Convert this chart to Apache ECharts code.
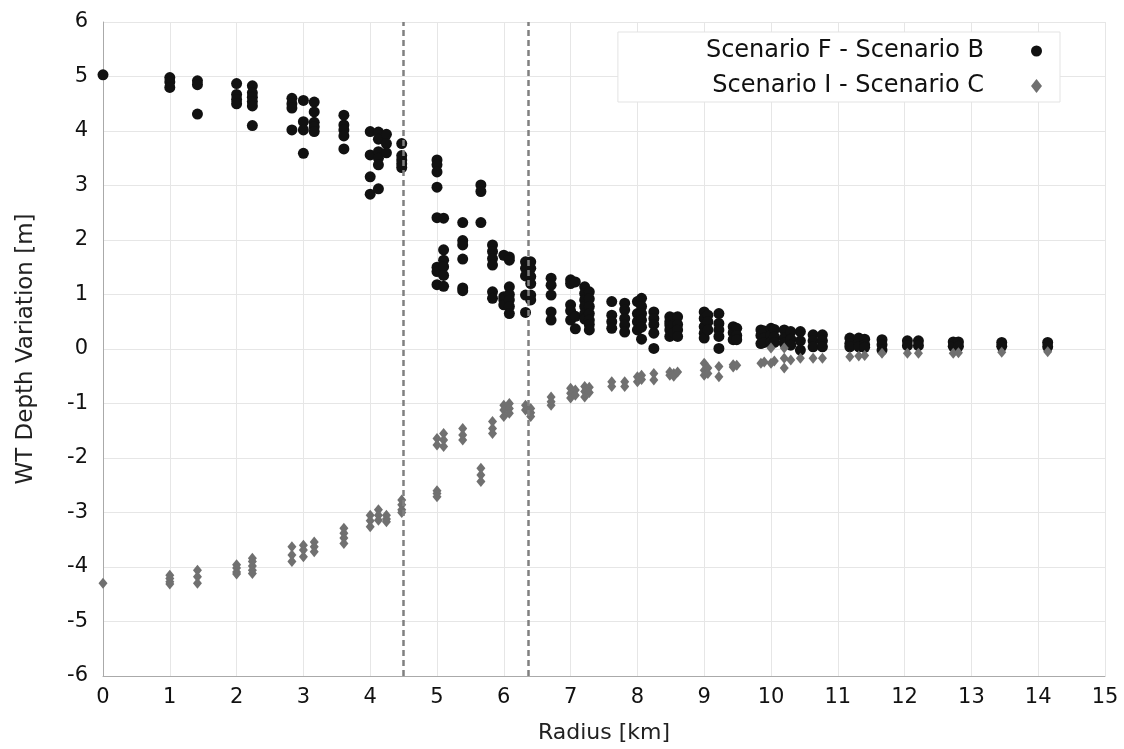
<!DOCTYPE html>
<html>
<head>
<meta charset="utf-8">
<script src="https://cdn.jsdelivr.net/npm/echarts@6/dist/echarts.min.js"></script>
<style>html,body{margin:0;padding:0;background:#fff}#c{width:1124px;height:749px}</style>
</head>
<body>
<div id="c"></div>
<script>
const seriesNames = ['Scenario F - Scenario B', 'Scenario I - Scenario C'];
const xTicks = [0,1,2,3,4,5,6,7,8,9,10,11,12,13,14,15];
const yTicks = [-6,-5,-4,-3,-2,-1,0,1,2,3,4,5,6];
const refLines = [4.5, 6.364];

const radii = [0,1,1.414,2,2.236,2.828,3,3.162,3.606,4,4.123,4.243,4.472,5,5.099,5.385,5.657,5.831,6,6.083,6.325,6.403,6.708,7,7.071,7.211,7.28,7.616,7.81,8,8.062,8.246,8.485,8.544,8.602,9,9.055,9.22,9.434,9.487,9.849,9.899,10,10.05,10.198,10.296,10.44,10.63,10.77,11.18,11.314,11.402,11.662,12.042,12.207,12.728,12.806,13.454,14.142];

const valuesFB = [
  [5.03],
  [4.98,4.9,4.8],
  [4.92,4.85,4.31],
  [4.87,4.67,4.58,4.5],
  [4.83,4.7,4.62,4.54,4.46,4.1],
  [4.6,4.5,4.42,4.02],
  [4.56,4.17,4.02,3.59],
  [4.53,4.35,4.16,4.08,3.99],
  [4.29,4.11,4.02,3.91,3.67],
  [3.99,3.56,3.16,2.84],
  [3.98,3.85,3.62,3.5,3.38,2.94],
  [3.94,3.77,3.6],
  [3.77,3.55,3.47,3.4,3.33],
  [3.47,3.38,3.25,2.97,2.41,1.5,1.42,1.18],
  [2.4,1.82,1.63,1.51,1.35,1.15],
  [2.32,1.99,1.91,1.65,1.12,1.07],
  [3.01,2.89,2.32],
  [1.91,1.79,1.66,1.54,1.05,0.93],
  [1.72,0.96,0.9,0.81],
  [1.69,1.63,1.14,1.0,0.9,0.78,0.65],
  [1.6,1.48,1.34,0.99,0.67],
  [1.6,1.48,1.33,1.2,0.99,0.9],
  [1.3,1.17,0.99,0.68,0.53],
  [1.27,1.2,0.81,0.7,0.53],
  [1.23,0.6,0.37],
  [1.14,1.02,0.9,0.78,0.65,0.55],
  [1.05,0.92,0.78,0.65,0.53,0.45,0.35],
  [0.87,0.62,0.5,0.38],
  [0.84,0.72,0.56,0.44,0.31],
  [0.87,0.65,0.5,0.35],
  [0.93,0.78,0.65,0.53,0.4,0.18],
  [0.68,0.56,0.45,0.29,0.01],
  [0.59,0.5,0.44,0.35,0.23],
  [0.57,0.45,0.3],
  [0.59,0.45,0.35,0.23],
  [0.68,0.56,0.41,0.29,0.2],
  [0.62,0.5,0.35],
  [0.65,0.47,0.35,0.23,0.01],
  [0.41,0.3,0.17],
  [0.38,0.25,0.17],
  [0.35,0.25,0.1],
  [0.33,0.2,0.12],
  [0.38,0.25,0.13],
  [0.36,0.22,0.12],
  [0.35,0.2,0.11],
  [0.32,0.18,0.07],
  [0.32,0.15,-0.02],
  [0.26,0.15,0.04],
  [0.26,0.15,0.04],
  [0.2,0.1,0.04],
  [0.2,0.1,0.04],
  [0.18,0.08,0.03],
  [0.17,0.08,-0.02],
  [0.15,0.06],
  [0.15,0.06],
  [0.13,0.05],
  [0.13,0.05],
  [0.12,0.05],
  [0.12,0.04]
];

const valuesIC = [
  [-4.3],
  [-4.15,-4.21,-4.27,-4.31],
  [-4.06,-4.18,-4.3],
  [-3.96,-4.02,-4.09,-4.13],
  [-3.84,-3.9,-3.98,-4.06,-4.12],
  [-3.63,-3.78,-3.9],
  [-3.6,-3.69,-3.81],
  [-3.54,-3.63,-3.72],
  [-3.29,-3.38,-3.47,-3.57],
  [-3.05,-3.15,-3.26],
  [-2.95,-3.05,-3.14],
  [-3.05,-3.12,-3.17],
  [-2.77,-2.86,-2.95,-3.0],
  [-1.64,-1.76,-2.6,-2.65,-2.71],
  [-1.55,-1.67,-1.79],
  [-1.46,-1.58,-1.67],
  [-2.19,-2.31,-2.43],
  [-1.33,-1.46,-1.55],
  [-1.03,-1.12,-1.24],
  [-1.0,-1.09,-1.18],
  [-1.03,-1.12],
  [-1.09,-1.17,-1.24],
  [-0.88,-0.97,-1.03],
  [-0.72,-0.81,-0.9],
  [-0.75,-0.85],
  [-0.69,-0.78,-0.88],
  [-0.7,-0.8],
  [-0.6,-0.69],
  [-0.6,-0.69],
  [-0.51,-0.6],
  [-0.48,-0.56],
  [-0.45,-0.57],
  [-0.42,-0.48],
  [-0.45,-0.5],
  [-0.42],
  [-0.26,-0.39,-0.48],
  [-0.35,-0.45],
  [-0.32,-0.51],
  [-0.29,-0.33],
  [-0.3],
  [-0.26],
  [-0.24],
  [0.02,-0.26],
  [-0.22],
  [0.02,-0.17,-0.35],
  [-0.2],
  [-0.17],
  [-0.17],
  [-0.17],
  [-0.14],
  [-0.13],
  [-0.12],
  [-0.08],
  [-0.08],
  [-0.08],
  [-0.08],
  [-0.07],
  [-0.06],
  [-0.05]
];

function toPoints(rs, vals) {
  const out = [];
  rs.forEach((r, i) => (vals[i] || []).forEach(v => out.push([r, v])));
  return out;
}

const FONT = 'DejaVu Sans';
const chart = echarts.init(document.getElementById('c'), null, {renderer: 'canvas'});
chart.setOption({
  animation: false,
  backgroundColor: '#ffffff',
  textStyle: {fontFamily: FONT},
  grid: {left: 103, right: 19, top: 22, bottom: 73, containLabel: false},
  xAxis: {
    type: 'value', min: 0, max: 15, interval: 1,
    name: 'Radius [km]', nameLocation: 'middle', nameGap: 46,
    nameTextStyle: {fontSize: 22, color: '#222', fontFamily: FONT},
    axisLine: {show: true, onZero: false, lineStyle: {color: '#aaaaaa', width: 1}},
    axisTick: {show: false},
    axisLabel: {fontSize: 21, color: '#111', margin: 11, fontFamily: FONT,
      formatter: v => xTicks.includes(v) ? String(v) : ''},
    splitLine: {show: true, lineStyle: {color: '#e6e6e6', width: 1}}
  },
  yAxis: {
    type: 'value', min: -6, max: 6, interval: 1,
    name: 'WT Depth Variation [m]', nameLocation: 'middle', nameGap: 65,
    nameTextStyle: {fontSize: 23, color: '#222', fontFamily: FONT},
    axisLine: {show: true, onZero: false, lineStyle: {color: '#aaaaaa', width: 1}},
    axisTick: {show: false},
    axisLabel: {fontSize: 21, color: '#111', margin: 15, fontFamily: FONT,
      formatter: v => yTicks.includes(v) ? String(v) : ''},
    splitLine: {show: true, lineStyle: {color: '#e6e6e6', width: 1}}
  },
  legend: {
    orient: 'vertical', align: 'right',
    right: 64, top: 32,
    backgroundColor: '#ffffff',
    borderColor: '#e3e3e3', borderWidth: 1,
    padding: [6, 18, 3, 88],
    itemGap: 9, itemWidth: 11, itemHeight: 14,
    textStyle: {fontSize: 24, lineHeight: 26, color: '#111', fontFamily: FONT, padding: [0, 42, 0, 0]},
    data: [
      {name: seriesNames[0], icon: 'circle', itemStyle: {color: '#111111'}},
      {name: seriesNames[1], icon: 'diamond', itemStyle: {color: '#707070'}}
    ]
  },
  series: [
    {
      name: seriesNames[0], type: 'scatter',
      symbol: 'circle', symbolSize: 11,
      itemStyle: {color: '#111111', opacity: 1},
      data: toPoints(radii, valuesFB),
      markLine: {
        silent: true, symbol: ['none', 'none'],
        label: {show: false},
        lineStyle: {color: '#808080', width: 2.5, type: [6, 4]},
        data: refLines.map(x => ({xAxis: x}))
      },
      z: 2
    },
    {
      name: seriesNames[1], type: 'scatter',
      symbol: 'diamond', symbolSize: [9, 11],
      itemStyle: {color: '#707070', opacity: 1},
      data: toPoints(radii, valuesIC),
      z: 3
    }
  ]
});
</script>
</body>
</html>
